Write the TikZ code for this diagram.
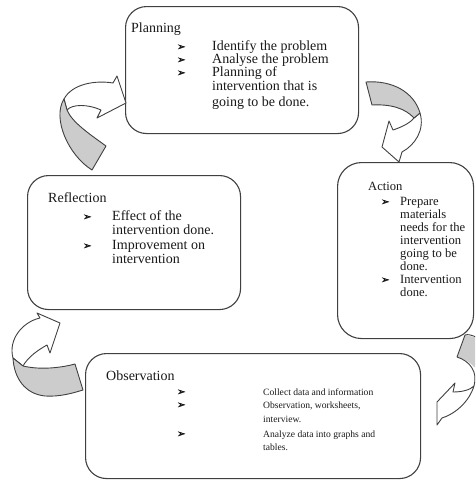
\documentclass[tikz,border=0pt]{standalone}
\usepackage{fontspec}
\setmainfont{Liberation Serif}
\newfontfamily\symfont[FakeBold=2]{DejaVu Sans}
\tikzset{
  boxst/.style={draw=black!75, line width=1.1pt, rounded corners=21pt, inner sep=0pt},
  facew/.style={draw=black!75, line width=0.9pt, fill=white, line join=round},
  faceg/.style={fill=black!20},
  edgeln/.style={draw=black!75, line width=0.9pt, line join=round},
  lbl/.style={anchor=base west, inner sep=0pt, text=black!90},
  bul/.style={anchor=base west, inner sep=0pt, font=\symfont\fontsize{10}{10}\selectfont, text=black!90},
}
\begin{document}
\begin{tikzpicture}[x=1pt,y=-1pt]
\useasboundingbox (0,0) rectangle (475,482);
\begin{scope}
\clip (0,0) rectangle (475,482);
% boxes
\node[boxst, minimum width=233pt, minimum height=127pt, anchor=north west] (planbox) at (125,6) {};
\node[boxst, minimum width=213pt, minimum height=134pt, anchor=north west] (reflbox) at (27,175) {};
\node[boxst, rounded corners=24pt, minimum width=136pt, minimum height=176pt, anchor=north west] (actbox) at (337,162) {};
\node[boxst, minimum width=335pt, minimum height=125pt, anchor=north west] (obsbox) at (85,353) {};

% arrow 1 (reflection -> planning)
\path[facew] (64,99) .. controls (72,84) and (95,80) .. (113,83) -- (117,76) -- (126,103) -- (97,118) -- (101,110) .. controls (88,104) and (72,104) .. (67,110) -- cycle;
\path[facew, fill=black!20] (64,99) .. controls (52,118) and (68,155) .. (92,170) -- (106,146) .. controls (88,133) and (72,122) .. (67,110) -- cycle;

% arrow 2 (planning -> action)
\path[facew] (420,113) .. controls (425,130) and (415,145) .. (402,152) -- (399,162) -- (382,147) -- (389,121) -- (393,130) .. controls (402,127) and (410,123) .. (414,118) -- cycle;
\path[facew, fill=black!20] (366,82) .. controls (392,80) and (414,92) .. (420,113) -- (414,118) .. controls (405,108) and (390,104) .. (372,105) -- cycle;

% arrow 3 (action -> observation)
\fill[faceg] (465,335) -- (457,357) .. controls (464,359) and (470,362) .. (474,367) -- (478,367) -- (478,338) -- cycle;
\path[facew] (474,386) .. controls (469,402) and (455,414) .. (442,418) -- (437,425) -- (437,402) -- (455,383) -- (453,392) .. controls (462,392) and (470,390) .. (474,386);
\path[edgeln] (457,357) .. controls (470,361) and (478,372) .. (474,386);
\path[edgeln] (478,338) .. controls (472,335) and (468,334) .. (465,335) -- (457,357);

% arrow 4 (observation -> reflection)
\path[facew] (13,358) .. controls (8,340) and (22,322) .. (40,318) -- (37,313) -- (60,323) -- (50,353) -- (47,345) .. controls (38,350) and (28,357) .. (23,366) -- cycle;
\path[facew, fill=black!20] (13,358) .. controls (14,378) and (25,394) .. (45,396) .. controls (60,397) and (73,393) .. (83,390) -- (75,364) .. controls (60,368) and (40,370) .. (23,366) -- cycle;
\end{scope}

% Planning text
\begin{scope}[font=\fontsize{14}{16}\selectfont]
\node[lbl] (ph) at (131,32) {Planning};
\node[bul] (pb1) at (177,50) {➢};
\node[bul] (pb2) at (177,63) {➢};
\node[bul] (pb3) at (177,76) {➢};
\node[lbl] (pt1) at (212,50) {Identify the problem};
\node[lbl] (pt2) at (212,63) {Analyse the problem};
\node[lbl] (pt3) at (212,76) {Planning of};
\node[lbl] (pt4) at (212,90) {intervention that is};
\node[lbl] (pt5) at (212,106) {going to be done.};
\end{scope}

% Reflection text
\begin{scope}[font=\fontsize{14}{16}\selectfont]
\node[lbl] (rh) at (48,202) {Reflection};
\node[bul] (rb1) at (83,220) {➢};
\node[bul] (rb2) at (83,249) {➢};
\node[lbl] (rt1) at (112,220) {Effect of the};
\node[lbl] (rt2) at (112,234) {intervention done.};
\node[lbl] (rt3) at (112,249) {Improvement on};
\node[lbl] (rt4) at (112,263) {intervention};
\end{scope}

% Action text
\begin{scope}[font=\fontsize{12.6}{14}\selectfont]
\node[lbl] (ah) at (368,190) {Action};
\node[bul] (ab1) at (381,205) {➢};
\node[bul] (ab2) at (381,283) {➢};
\node[lbl] (at1) at (400,205) {Prepare};
\node[lbl] (at2) at (400,218) {materials};
\node[lbl] (at3) at (400,231) {needs for the};
\node[lbl] (at4) at (400,244) {intervention};
\node[lbl] (at5) at (400,257) {going to be};
\node[lbl] (at6) at (400,270) {done.};
\node[lbl] (at7) at (400,283) {Intervention};
\node[lbl] (at8) at (400,296) {done.};
\end{scope}

% Observation text
\node[lbl, font=\fontsize{14}{16}\selectfont] (oh) at (106,380) {Observation};
\begin{scope}[font=\fontsize{9.6}{11}\selectfont]
\node[bul] (ob1) at (177,395) {➢};
\node[bul] (ob2) at (177,408) {➢};
\node[bul] (ob3) at (177,437) {➢};
\node[lbl] (ot1) at (263,395) {Collect data and information};
\node[lbl] (ot2) at (263,408) {Observation, worksheets,};
\node[lbl] (ot3) at (263,422) {interview.};
\node[lbl] (ot4) at (263,437) {Analyze data into graphs and};
\node[lbl] (ot5) at (263,450) {tables.};
\end{scope}
\end{tikzpicture}
\end{document}
